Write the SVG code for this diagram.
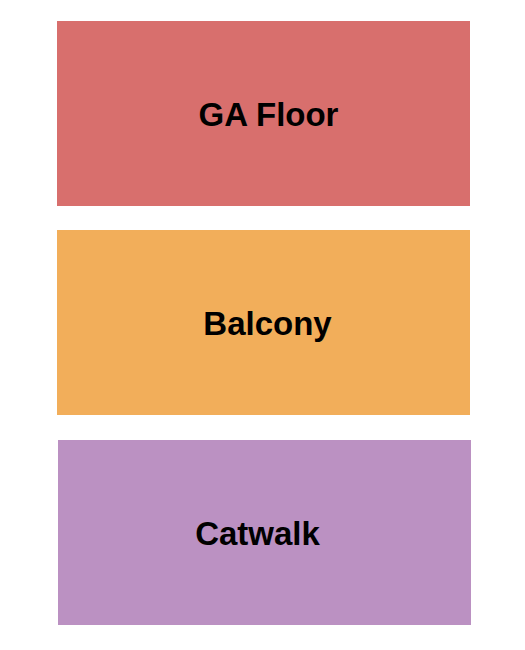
<svg xmlns="http://www.w3.org/2000/svg" width="525" height="650" viewBox="0 0 525 650">
<style>
.lbl{font-family:"Liberation Sans",Arial,sans-serif;font-weight:bold;font-size:33px;fill:#000;text-anchor:middle}
</style>
<rect width="525" height="650" fill="#fff"/>
<g id="ga-floor"><rect x="57" y="21" width="413" height="185" fill="#D86F6D"/><text class="lbl" x="268.5" y="126">GA Floor</text></g>
<g id="balcony"><rect x="57" y="230" width="413" height="185" fill="#F2AE5A"/><text class="lbl" x="267.5" y="335">Balcony</text></g>
<g id="catwalk"><rect x="58" y="440" width="413" height="185" fill="#BB91C2"/><text class="lbl" x="257.5" y="545">Catwalk</text></g>
<g id="connectors"/>
</svg>
